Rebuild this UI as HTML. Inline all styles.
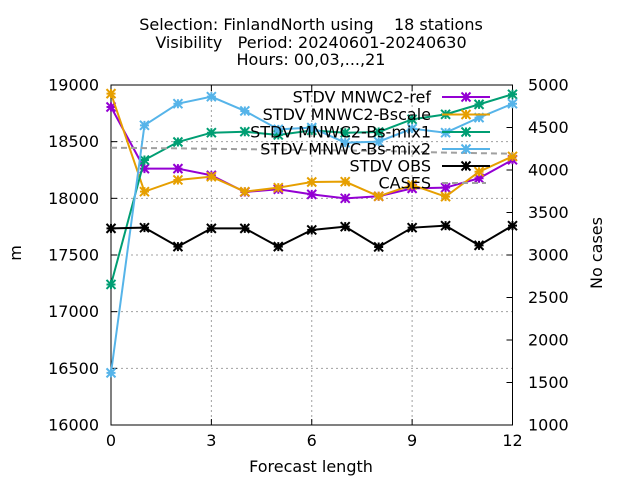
<!DOCTYPE html>
<html><head><meta charset="utf-8"><style>
body{margin:0;background:#fff}
svg text{font-family:"DejaVu Sans","Liberation Sans",sans-serif;font-size:16px;fill:#000}
</style></head><body>
<svg id="c" width="640" height="480">
<text x="311" y="30" text-anchor="middle" xml:space="preserve">Selection: FinlandNorth using    18 stations</text>
<text x="311" y="48" text-anchor="middle" xml:space="preserve">Visibility   Period: 20240601-20240630</text>
<text x="311" y="65" text-anchor="middle">Hours: 00,03,...,21</text>
<text transform="translate(21,253) rotate(-90)" text-anchor="middle">m</text>
<text transform="translate(602,253) rotate(-90)" text-anchor="middle">No cases</text>
<text x="311" y="472" text-anchor="middle">Forecast length</text>
<g id="grid"></g><g id="axes"></g><g id="series"></g><g id="legend"></g>
</svg>
<script>
const hours=[0,1,2,3,4,5,6,7,8,9,10,11,12];
const xTicks=[0,3,6,9,12];
const yTicks=[16000,16500,17000,17500,18000,18500,19000];
const y2Ticks=[1000,1500,2000,2500,3000,3500,4000,4500,5000];
const ref=[18806,18262,18262,18203,18056,18080,18035,18000,18018,18088,18094,18177,18340];
const bscale=[18924,18059,18162,18191,18059,18094,18144,18147,18018,18118,18015,18235,18370];
const mix1=[17240,18338,18497,18579,18588,18559,18600,18579,18585,18697,18741,18829,18918];
const mix2=[16460,18644,18835,18897,18771,18609,18624,18491,18500,18615,18579,18712,18835];
const obs=[17735,17741,17574,17735,17735,17574,17721,17750,17571,17741,17759,17585,17759];
const cases=[4262,4258,4255,4250,4245,4240,4235,4230,4225,4215,4205,4198,4192];
const L=111,R=512.5,T=85,B=425;
const X=h=>L+(h-0)/(12-0)*(R-L);
const Y=v=>B-(v-16000)/3000*(B-T);
const Y2=v=>B-(v-1000)/4000*(B-T);
const NS='http://www.w3.org/2000/svg';
function mk(t,a,p){const e=document.createElementNS(NS,t);for(const k in a)e.setAttribute(k,a[k]);p.appendChild(e);return e;}
const grid=document.getElementById('grid'),axes=document.getElementById('axes'),ser=document.getElementById('series'),leg=document.getElementById('legend');
yTicks.forEach(v=>{const y=Y(v);
 if(v>16000&&v<19000){const g=mk('line',{x1:L,x2:R,y1:y,y2:y,stroke:'#a0a0a0','stroke-dasharray':'2,3'},grid);
 
 }
 mk('line',{x1:L,x2:L+6,y1:y,y2:y,stroke:'#000'},axes);
 const t=mk('text',{x:L-12,y:y+5.5,'text-anchor':'end'},axes);t.textContent=v;
 
 });
y2Ticks.forEach(v=>{const y=Y2(v);
 mk('line',{x1:R-6,x2:R,y1:y,y2:y,stroke:'#000'},axes);
 const t=mk('text',{x:R+15.5,y:y+5.5},axes);t.textContent=v;
 
 });
xTicks.forEach(h=>{const x=X(h);
 if(h>0&&h<12){const g=mk('line',{x1:x,x2:x,y1:T,y2:B,stroke:'#a0a0a0','stroke-dasharray':'2,3'},grid);
 
 }
 mk('line',{x1:x,x2:x,y1:B,y2:B-6,stroke:'#000'},axes);
 mk('line',{x1:x,x2:x,y1:T,y2:T+6,stroke:'#000'},axes);
 const t=mk('text',{x:x,y:B+21,'text-anchor':'middle'},axes);t.textContent=h;
 
 });
const fr=mk('rect',{x:L,y:T,width:R-L,height:B-T,fill:'none',stroke:'#000','stroke-width':1},axes);


function star(x,y,c,p){const s=4.5;
 mk('path',{d:`M${x-s},${y}H${x+s}M${x},${y-s}V${y+s}M${x-s},${y-s}L${x+s},${y+s}M${x-s},${y+s}L${x+s},${y-s}`,stroke:c,'stroke-width':2,fill:'none'},p);}
const S=[['STDV MNWC2-ref',ref,'#9400d3'],['STDV MNWC2-Bscale',bscale,'#e69f00'],['STDV MNWC2-Bs-mix1',mix1,'#009e73'],['STDV MNWC-Bs-mix2',mix2,'#56b4e9'],['STDV OBS',obs,'#000000']];
const ly=[97,114.5,132,149,166,183];
S.forEach((s,i)=>{const g=mk('g',{},ser);
 
 
 mk('polyline',{points:hours.map((h,j)=>X(h)+','+Y(s[1][j])).join(' '),fill:'none',stroke:s[2],'stroke-width':2},g);
 hours.forEach((h,j)=>star(X(h),Y(s[1][j]),s[2],g));
 const e=mk('g',{},leg);
 
 
 const t=mk('text',{x:431,y:ly[i]+5.5,'text-anchor':'end'},e);t.textContent=s[0];
 mk('line',{x1:442,x2:490,y1:ly[i],y2:ly[i],stroke:s[2],'stroke-width':2},e);
 star(466,ly[i],s[2],e);});
const cg=mk('g',{},ser);


mk('polyline',{points:hours.map((h,j)=>X(h)+','+Y2(cases[j])).join(' '),fill:'none',stroke:'#a0a0a0','stroke-width':2,'stroke-dasharray':'6,4'},cg);
const ce=mk('g',{},leg);


const ct=mk('text',{x:431,y:ly[5]+5.5,'text-anchor':'end'},ce);ct.textContent='CASES';
mk('line',{x1:442,x2:486,y1:ly[5],y2:ly[5],stroke:'#a0a0a0','stroke-width':2,'stroke-dasharray':'6,4'},ce);
</script>
</body></html>
